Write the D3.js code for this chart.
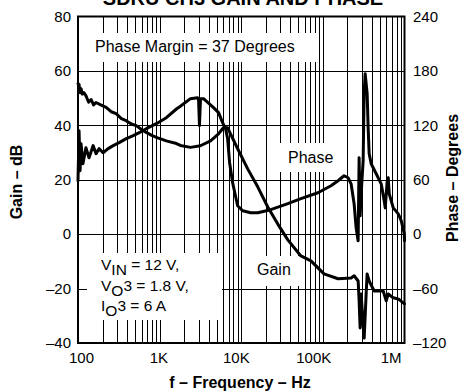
<!DOCTYPE html>
<html><head><meta charset="utf-8">
<script src="https://cdn.jsdelivr.net/npm/d3@7"></script>
<style>html,body{margin:0;padding:0;background:#fff;} svg{display:block;font-family:"Liberation Sans",Arial,Helvetica,sans-serif;}</style>
</head><body><svg id="c" width="463" height="392"></svg>
<script>
// ---- data ----
const gainFreq = [100,103,106,109,113,118,125,135,145,155,166,190,221,255,293,340,389,450,517,600,686,800,911,1209,1605,1798,2387,3162,4204,5272,6079,6808,9036,11990,15910,21130,28050,37220,53800,71450,103200,153500,221800,241500,270500,278000,286000,294300,311400,320600,338900,348500,369000,425300,489800,548300,597000,632000,727800,838800,1000000];
const gainDb   = [55.3,55,52,53.5,51.5,52,50.9,48.5,49.5,47.5,48.4,47.5,46.6,45,44.3,42.5,41.7,40.5,39.9,38.5,37.4,36.3,35.6,34.3,33.3,32.6,31.9,32.5,34.3,36.9,39.2,39.1,31.4,24.0,17.4,10.0,3.7,-2.1,-8.0,-9.8,-14.6,-16.4,-16.1,-15.3,-17.2,-24.5,-34.5,-22,-33,-38.2,-22,-14.6,-17.2,-20.9,-20.9,-20.9,-24.5,-22,-23.4,-23.8,-25.6];

const phaseFreq = [100,103,106,109,115,125,136.5,153,166.5,181,203,234,270,319,390,475,563,686,911,1209,1605,1798,2386,2909,3000,3077,3168,3447,4577,5272,5905,6429,6805,7200,7840,9031,10400,13050,15910,22990,37220,53790,87050,125800,153400,181800,203600,221700,241300,255400,270300,278000,286000,294200,311400,320300,329500,348700,358700,369000,390600,449900,518300,564400,580600,614400,632100,650200,728400,838700,913300,994300,1000000];
const phaseDeg  = [59,114,70,99.6,77.6,95.3,84.3,97.6,88.8,94.3,89.8,94.3,97.6,100.9,105.3,108.6,111.9,116.3,121.8,128.4,138,141,149.4,150.5,148,119.7,149.4,149.4,139.5,134,123,116.3,105.3,78.8,56.7,31.3,25.8,23.6,23.6,27,33.6,39.1,45.7,53.4,58.9,64.4,62.2,55.5,33.6,7.2,-7.2,84.3,20.2,44.5,81,154.9,177,154.9,117.4,88.7,77.6,66.6,55.5,36.7,29,58.9,62.2,44.5,29,22.4,14.6,0.3,-7.2];

const xTickVals = [100,1000,10000,100000,1000000];
const xTickLabels = ["100","1K","10K","100K","1M"];
const gainTicks = [-40,-20,0,20,40,60,80];
const phaseTicks = [-120,-60,0,60,120,180,240];

// ---- layout ----
const L=78, R=404.5, T=16.5, B=343;
const svg = d3.select("#c");
const x = d3.scaleLog().domain([100,1e6]).range([L,R]);
const yG = d3.scaleLinear().domain([-40,80]).range([B,T]);
const yP = d3.scaleLinear().domain([-120,240]).range([B,T]);
const dash = v => (v<0 ? "\u2013"+Math.abs(v) : String(v));

// grid
const minor = [];
for (let dec=100; dec<1e6; dec*=10) for (let m=1;m<=9;m++){ const v=dec*m; if (v>100 && v<1e6) minor.push(v); }
const grid = svg.append("g").attr("stroke","#000").attr("stroke-width",1).attr("shape-rendering","crispEdges");
grid.selectAll("line.v").data(minor).join("line").attr("class","v")
  .attr("x1",d=>Math.round(x(d))+0.5).attr("x2",d=>Math.round(x(d))+0.5).attr("y1",T).attr("y2",B);
grid.selectAll("line.h").data(gainTicks.filter(v=>v>-40&&v<80)).join("line").attr("class","h")
  .attr("x1",L).attr("x2",R).attr("y1",d=>Math.round(yG(d))+0.5).attr("y2",d=>Math.round(yG(d))+0.5);

// label boxes (white backgrounds)
const boxes = [[79,33,237,29],[280,143,60,29],[246,256,58,30],[87,253,135,67]];
svg.append("g").selectAll("rect").data(boxes).join("rect")
  .attr("x",d=>d[0]).attr("y",d=>d[1]).attr("width",d=>d[2]).attr("height",d=>d[3]).attr("fill","#fff");

// curves
const gainData = gainFreq.map((f,i)=>({f, v:gainDb[i]}));
const phaseData = phaseFreq.map((f,i)=>({f, v:phaseDeg[i]}));
svg.append("path").datum(gainData).attr("fill","none").attr("stroke","#000").attr("stroke-width",3)
  .attr("stroke-linejoin","round").attr("stroke-linecap","round")
  .attr("d", d3.line().x(d=>x(d.f)).y(d=>yG(d.v)));
svg.append("path").datum(phaseData).attr("fill","none").attr("stroke","#000").attr("stroke-width",3)
  .attr("stroke-linejoin","round").attr("stroke-linecap","round")
  .attr("d", d3.line().x(d=>x(d.f)).y(d=>yP(d.v)));

// border
svg.append("rect").attr("x",L).attr("y",T).attr("width",R-L).attr("height",B-T)
  .attr("fill","none").attr("stroke","#000").attr("stroke-width",2);

// axes
const styleAxis = g => { g.select(".domain").remove(); g.selectAll("line").remove();
  g.attr("font-family",null).attr("font-size",null);
  g.selectAll("text").attr("font-size",15).attr("fill","#000"); };
svg.append("g").attr("transform",`translate(${L},0)`)
  .call(d3.axisLeft(yG).tickValues(gainTicks).tickSize(0).tickPadding(7).tickFormat(dash)).call(styleAxis);
svg.append("g").attr("transform",`translate(${R},0)`)
  .call(d3.axisRight(yP).tickValues(phaseTicks).tickSize(0).tickPadding(8.5).tickFormat(dash)).call(styleAxis);
svg.append("g").attr("transform",`translate(0,${B})`)
  .call(d3.axisBottom(x).tickValues(xTickVals).tickSize(0).tickPadding(9).tickFormat((d,i)=>xTickLabels[i])).call(styleAxis)
  .selectAll("text").attr("dx",(d,i)=>3-4.2*i);

// titles
svg.append("text").attr("x",243).attr("y",5).attr("text-anchor","middle").attr("font-weight","bold")
  .attr("font-size",20).text("SDRU CH3 GAIN AND PHASE");
svg.append("text").attr("x",240).attr("y",388).attr("text-anchor","middle").attr("font-weight","bold")
  .attr("font-size",16).text("f \u2013 Frequency \u2013 Hz");
svg.append("text").attr("transform","translate(22,182) rotate(-90)").attr("text-anchor","middle").attr("font-weight","bold")
  .attr("font-size",16).text("Gain \u2013 dB");
svg.append("text").attr("transform","translate(458,178) rotate(-90)").attr("text-anchor","middle").attr("font-weight","bold")
  .attr("font-size",16).text("Phase \u2013 Degrees");

// annotations
svg.append("text").attr("x",95).attr("y",52).attr("font-size",16).text("Phase Margin = 37 Degrees");
svg.append("text").attr("x",288).attr("y",163).attr("font-size",16).text("Phase");
svg.append("text").attr("x",257).attr("y",275).attr("font-size",16).text("Gain");
const cond = [["V","IN"," = 12 V,",""],["V","O","3 = 1.8 V,",""],["I","O","3 = 6 A",""]];
cond.forEach((c,i)=>{
  const t = svg.append("text").attr("x",101).attr("y",270+i*20.5).attr("font-size",15.5);
  t.append("tspan").text(c[0]);
  t.append("tspan").attr("dy",5).text(c[1]);
  t.append("tspan").attr("dy",-5).text(c[2]);
});
</script></body></html>
